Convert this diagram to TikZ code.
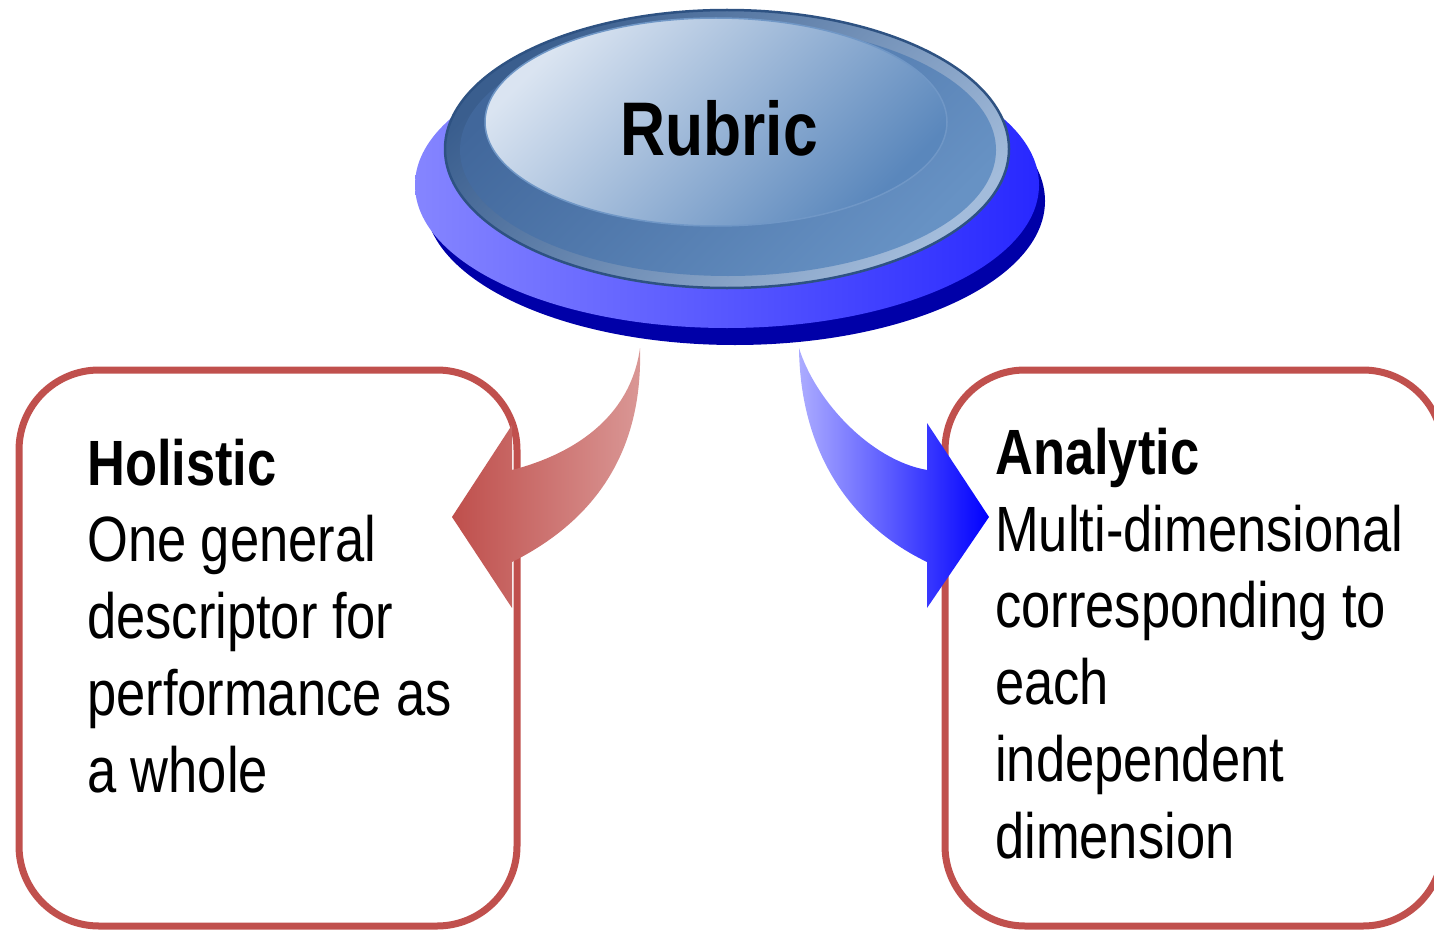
\documentclass[tikz,border=0pt]{standalone}
\usepackage{fontspec}
\setmainfont{Liberation Sans}[FakeStretch=0.82]
\definecolor{boxred}{HTML}{C0504D}
\definecolor{arrowredL}{HTML}{BF4F4C}
\definecolor{arrowredR}{HTML}{DA9896}
\definecolor{arrowblueL}{HTML}{ACACFF}
\definecolor{arrowblueM}{HTML}{8A8AFF}
\definecolor{arrowblueR}{HTML}{0000FF}
\definecolor{diskdark}{HTML}{0000A8}
\definecolor{diskL}{HTML}{8585FF}
\definecolor{diskR}{HTML}{2828FF}
\definecolor{btnA}{HTML}{3A5E8E}
\definecolor{btnB}{HTML}{A3BCDB}
\definecolor{btnline}{HTML}{2E5282}
\definecolor{bandA}{HTML}{41679B}
\definecolor{bandB}{HTML}{6792C4}
\definecolor{faceA}{HTML}{DAE4F1}
\definecolor{faceB}{HTML}{5A87BC}
\definecolor{faceline}{HTML}{7097C6}
\begin{document}
\begin{tikzpicture}[x=1pt,y=-1pt,
  box/.style={draw=boxred, line width=7pt, rounded corners=80pt,
    minimum width=498pt, minimum height=556pt, inner sep=0pt, fill=white},
  bodytext/.style={font=\fontsize{64}{76.7}\selectfont, align=left,
    anchor=base west, inner sep=0pt},
  titletext/.style={font=\fontsize{76}{90}\selectfont\bfseries, anchor=base, inner sep=0pt},
  redarrow/.style={left color=arrowredL, right color=arrowredR},
  bluearrow/.style={left color=arrowblueL, middle color=arrowblueM, right color=arrowblueR},
]
\useasboundingbox (0,0) rectangle (1434,931);
\clip (0,0) rectangle (1434,931);

% boxes
\node[box] (holistic) at (268,648) {};
\node[box] (analytic) at (1194,648) {};

% base disk
\fill[diskdark] (735,201) ellipse [x radius=310pt, y radius=144pt];
\path[left color=diskL, right color=diskR] (727,185) ellipse [x radius=312pt, y radius=143pt];

% button
\path[draw=btnline, line width=2.5pt, top color=btnA, bottom color=btnB, shading angle=45]
  (727,149) ellipse [x radius=282pt, y radius=139pt];
\path[top color=bandA, bottom color=bandB, shading angle=45]
  (728,150) ellipse [x radius=268pt, y radius=126pt];
\path[draw=faceline, line width=1.5pt, top color=faceA, bottom color=faceB, shading angle=45]
  (716,122) ellipse [x radius=231pt, y radius=104pt];
\node[titletext] (rubric) at (719,155) {Rubric};

% curved arrows
\path[redarrow] (640,348) .. controls (643,455) and (592,522) .. (512,562)
  -- (512,608) -- (452,517) -- (512,425) -- (512,470)
  .. controls (570,455) and (630,420) .. (640,348) -- cycle;
\path[bluearrow] (799,348) .. controls (815,400) and (870,460) .. (927,470)
  -- (927,423) -- (989,517) -- (927,608) -- (927,562)
  .. controls (840,520) and (800,440) .. (799,348) -- cycle;

% texts (anchor = baseline of the last line)
\node[bodytext] (holtext) at (87,792)
  {\textbf{Holistic}\\One general\\descriptor for\\performance as\\a whole};
\node[bodytext] (anatext) at (995,858)
  {\textbf{Analytic}\\Multi-dimensional\\corresponding to\\each\\independent\\dimension};
\end{tikzpicture}
\end{document}
